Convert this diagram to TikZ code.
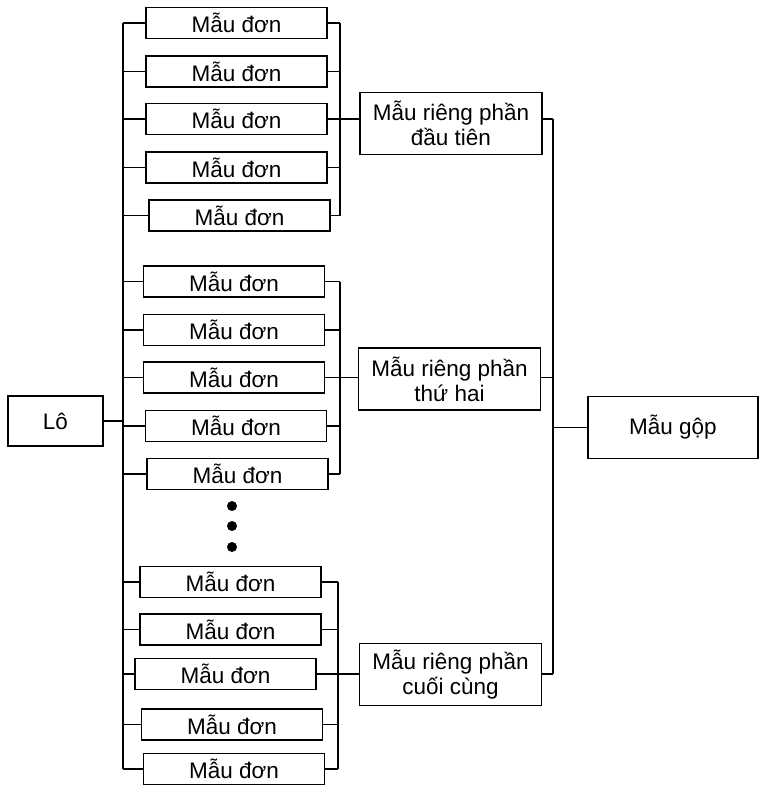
\documentclass[tikz,border=0pt]{standalone}
\usepackage{fontspec}
\setmainfont{Liberation Sans}
\begin{document}
\begin{tikzpicture}[x=1pt,y=-1pt,
  lw/.style={line width=1.7pt},
  box/.style={draw,lw,inner sep=0pt,font=\fontsize{22.5}{25}\selectfont,align=center},
  single/.style={box,minimum width=181pt,minimum height=31pt},
  part/.style={box,minimum width=182pt,minimum height=62pt},
  dot/.style={fill=black,circle,inner sep=0pt,minimum size=10pt}]
\useasboundingbox (0,0) rectangle (761,787);
% single samples
\node[single] (a1) at (236.5,23) {Mẫu đơn};
\node[single] (a2) at (236.5,71.5) {Mẫu đơn};
\node[single] (a3) at (236.5,119) {Mẫu đơn};
\node[single] (a4) at (236.5,167.5) {Mẫu đơn};
\node[single] (a5) at (239.5,215.5) {Mẫu đơn};
\node[single] (b1) at (234,281.5) {Mẫu đơn};
\node[single] (b2) at (234,330) {Mẫu đơn};
\node[single] (b3) at (234,377.5) {Mẫu đơn};
\node[single] (b4) at (236,426) {Mẫu đơn};
\node[single] (b5) at (237.5,474) {Mẫu đơn};
\node[single] (c1) at (230.5,582) {Mẫu đơn};
\node[single] (c2) at (230.5,629.5) {Mẫu đơn};
\node[single] (c3) at (225.5,674) {Mẫu đơn};
\node[single] (c4) at (232,724.5) {Mẫu đơn};
\node[single] (c5) at (234,769) {Mẫu đơn};
% dots
\node[dot] (d1) at (232,506) {};
\node[dot] (d2) at (232,526) {};
\node[dot] (d3) at (232,547) {};
% lot and partial samples
\node[box,minimum width=95pt,minimum height=50pt] (lo) at (55.5,421) {Lô};
\node[part] (p1) at (451,123.5) {Mẫu riêng phần\\đầu tiên};
\node[part] (p2) at (449.5,379) {Mẫu riêng phần\\thứ hai};
\node[part] (p3) at (450.5,674.5) {Mẫu riêng phần\\cuối cùng};
\node[box,minimum width=170pt,minimum height=62pt] (gop) at (673,427.5) {Mẫu gộp};
% bus coordinates
\coordinate (lb) at (123,0);
\coordinate (r1) at (340,0);
\coordinate (r2) at (340,0);
\coordinate (r3) at (338,0);
\coordinate (bb) at (553,0);
% left bus
\draw[lw] (a1.west -| lb) -- (c5.west -| lb);
\foreach \n in {a1,a2,a3,a4,a5,b1,b2,b3,b4,b5,c1,c2,c3,c4,c5}
  \draw[lw] (\n.west) -- (\n.west -| lb);
\draw[lw] (lo.east) -- (lo.east -| lb);
% group buses
\foreach \n in {a1,a2,a3,a4,a5} \draw[lw] (\n.east) -- (\n.east -| r1);
\draw[lw] (a1.east -| r1) -- (a5.east -| r1);
\foreach \n in {b1,b2,b3,b4,b5} \draw[lw] (\n.east) -- (\n.east -| r2);
\draw[lw] (b1.east -| r2) -- (b5.east -| r2);
\foreach \n in {c1,c2,c3,c4,c5} \draw[lw] (\n.east) -- (\n.east -| r3);
\draw[lw] (c1.east -| r3) -- (c5.east -| r3);
% to partial samples
\draw[lw] (a3.east -| r1) -- (a3.east -| p1.west);
\draw[lw] (b3.east -| r2) -- (b3.east -| p2.west);
\draw[lw] (c3.east -| r3) -- (c3.east -| p3.west);
% to composite
\draw[lw] (a3.east -| p1.east) -- (a3.east -| bb);
\draw[lw] (b3.east -| p2.east) -- (b3.east -| bb);
\draw[lw] (c3.east -| p3.east) -- (c3.east -| bb);
\draw[lw] (a3.east -| bb) -- (c3.east -| bb);
\draw[lw] (gop.west) -- (gop.west -| bb);
\end{tikzpicture}
\end{document}
